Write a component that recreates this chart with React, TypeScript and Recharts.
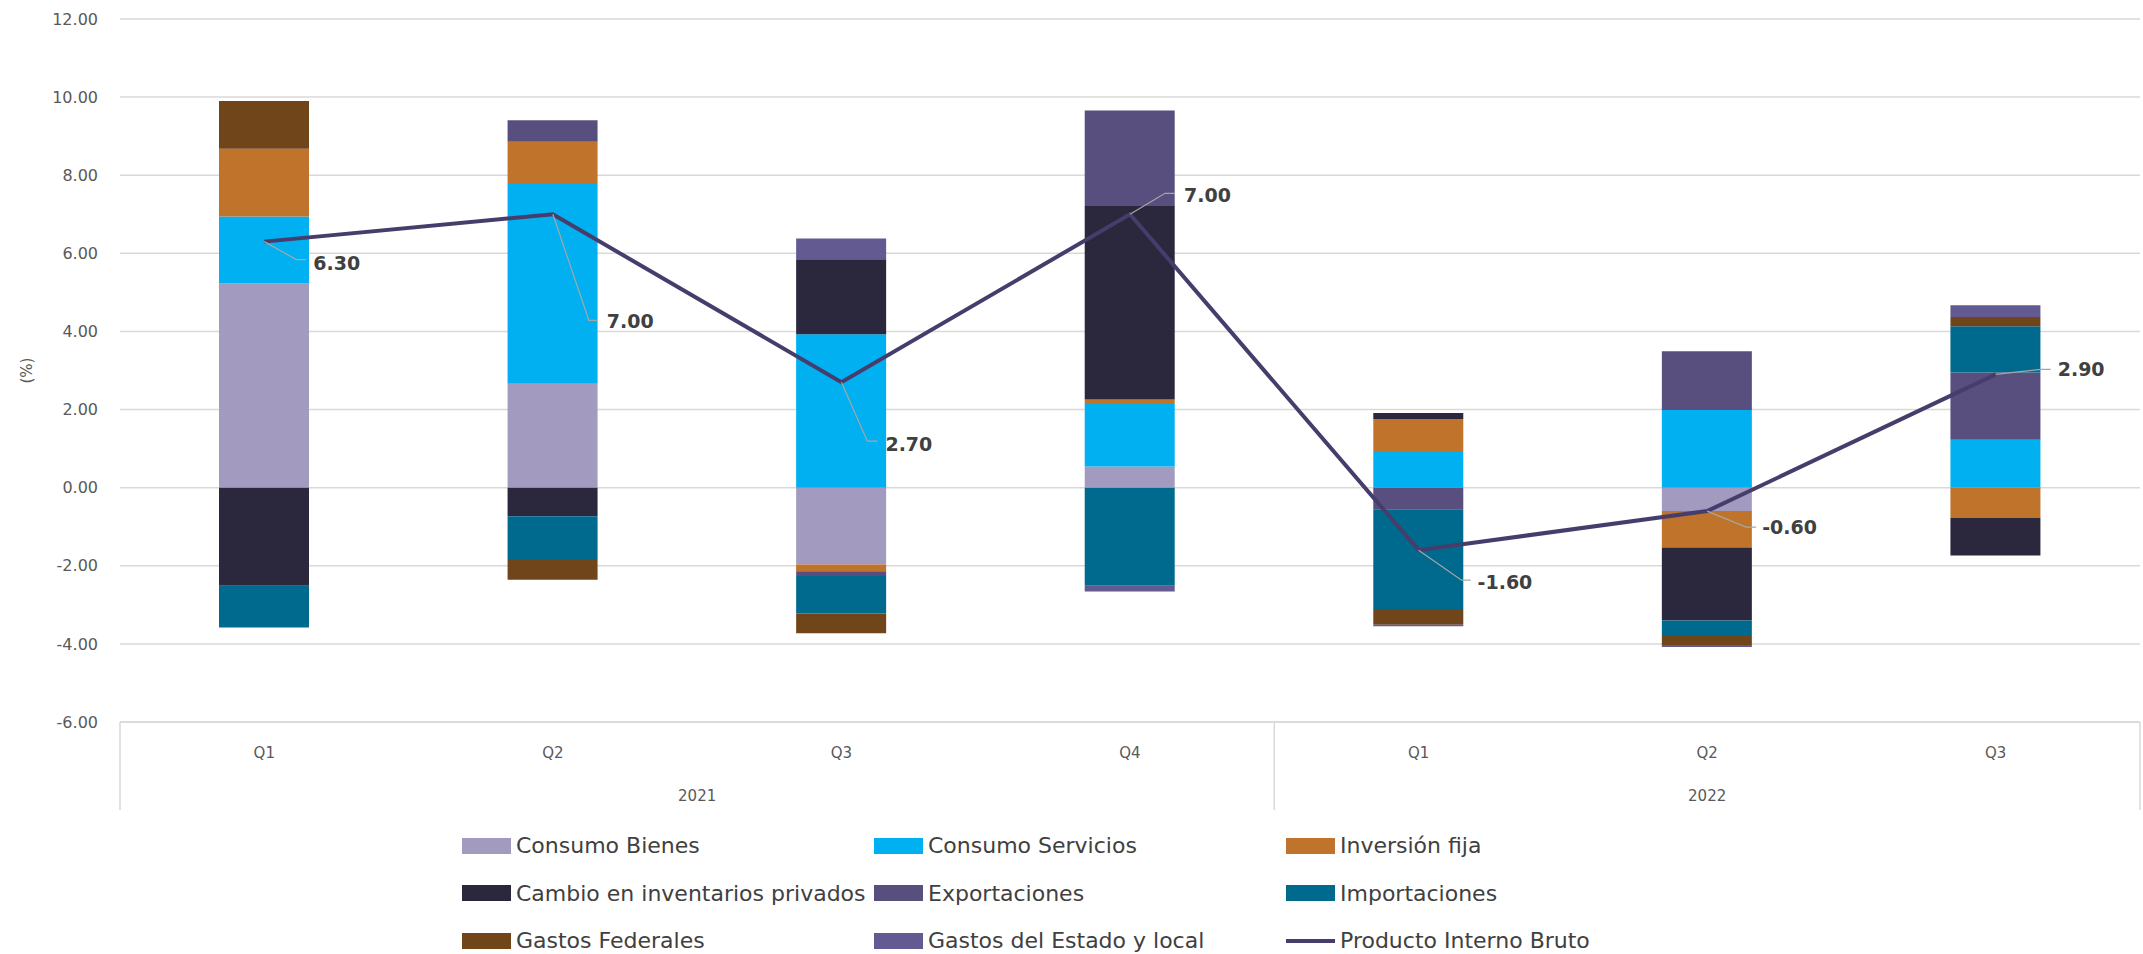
import React from 'react';
import { ComposedChart, Bar, Line, XAxis, YAxis, CartesianGrid, LabelList } from 'recharts';

const quarters = ['Q1', 'Q2', 'Q3', 'Q4', 'Q1', 'Q2', 'Q3'];
const years = ['2021', '2021', '2021', '2021', '2022', '2022', '2022'];

const consumoBienes = [5.23, 2.66, -1.97, 0.54, 0, -0.6, 0];
const consumoServicios = [1.71, 5.14, 3.93, 1.6, 0.94, 1.99, 1.23];
const inversionFija = [1.74, 1.06, -0.17, 0.12, 0.82, -0.93, -0.77];
const cambioInventarios = [-2.51, -0.73, 1.92, 4.95, 0.15, -1.87, -0.97];
const exportaciones = [0, 0.55, -0.12, 2.45, -0.55, 1.5, 1.72];
const importaciones = [-1.07, -1.12, -0.96, -2.51, -2.58, -0.37, 1.18];
const gastosFederales = [1.22, -0.51, -0.51, 0, -0.38, -0.26, 0.24];
const gastosEstadoLocal = [0, 0, 0.53, -0.15, -0.04, -0.05, 0.3];
const pib = [6.3, 7.0, 2.7, 7.0, -1.6, -0.6, 2.9];

const yTicks = [-6, -4, -2, 0, 2, 4, 6, 8, 10, 12];

const SERIES = [
  { key: 'bienes', name: 'Consumo Bienes', color: '#a29bbf', values: consumoBienes },
  { key: 'servicios', name: 'Consumo Servicios', color: '#00b0f0', values: consumoServicios },
  { key: 'inversion', name: 'Inversión fija', color: '#c0732a', values: inversionFija },
  { key: 'inventarios', name: 'Cambio en inventarios privados', color: '#2b273d', values: cambioInventarios },
  { key: 'exportaciones', name: 'Exportaciones', color: '#584f7f', values: exportaciones },
  { key: 'importaciones', name: 'Importaciones', color: '#006a8e', values: importaciones },
  { key: 'federales', name: 'Gastos Federales', color: '#71451a', values: gastosFederales },
  { key: 'estado', name: 'Gastos del Estado y local', color: '#625a91', values: gastosEstadoLocal },
];
const PIB_NAME = 'Producto Interno Bruto';
const PIB_COLOR = '#463d6c';

// label placement relative to the line point: [textDx, textDy, elbowDx, elbowDy, endDx]
const pibLabelOffsets = [
  [49, 21, 32, 18, 42],
  [54, 107, 36, 106, 45],
  [44, 62, 26, 59, 36],
  [54, -19, 35, -21, 45],
  [59, 32, 43, 30, 52],
  [55, 16, 39, 16, 49],
  [62, -5, 45, -5, 55],
];

const data = quarters.map((q, i) => {
  const row: any = { key: `${years[i]}-${q}`, q, year: years[i], pib: pib[i] };
  SERIES.forEach((s) => {
    row[s.key] = s.values[i];
  });
  return row;
});

const W = 2143;
const H = 954;
const FONT = "'DejaVu Sans', sans-serif";

const XTick = (props: any) => {
  const { x, y, payload } = props;
  const i = payload.index ?? props.index;
  const half = payload.offset || 144;
  const year = years[i];
  const first = i === 0 || years[i - 1] !== year;
  const last = i === quarters.length - 1;
  const groupSize = years.filter((v) => v === year).length;
  return (
    <g>
      <text x={x} y={y + 31} textAnchor="middle" dominantBaseline="central" fill="#595959" fontSize={15} fontFamily={FONT}>
        {quarters[i]}
      </text>
      {first && <line x1={x - half} x2={x - half} y1={y} y2={y + 88} stroke="#d9d9d9" strokeWidth={1.5} />}
      {first && (
        <text x={x + (groupSize - 1) * half} y={y + 74} textAnchor="middle" dominantBaseline="central" fill="#595959" fontSize={15} fontFamily={FONT}>
          {year}
        </text>
      )}
      {last && <line x1={x + half} x2={x + half} y1={y} y2={y + 88} stroke="#d9d9d9" strokeWidth={1.5} />}
    </g>
  );
};

const PibLabel = (props: any) => {
  const { x, y, value, index } = props;
  const o = pibLabelOffsets[index] || [40, 0, 20, 0, 30];
  const pts = `${x},${y} ${x + o[2]},${y + o[3]} ${x + o[4]},${y + o[3]}`;
  return (
    <g>
      <polyline points={pts} fill="none" stroke="#a6a6a6" strokeWidth={1.2} />
      <text x={x + o[0]} y={y + o[1]} dominantBaseline="central" fill="#404040" fontSize={19} fontWeight="bold" fontFamily={FONT}>
        {Number(value).toFixed(2)}
      </text>
    </g>
  );
};

const YLabel = (props: any) => {
  const vb = props.viewBox || { x: 0, y: 0, height: 700 };
  const cy = vb.y + vb.height / 2;
  return (
    <text x={27} y={cy} transform={`rotate(-90, 27, ${cy})`} textAnchor="middle" dominantBaseline="central" fill="#595959" fontSize={15} fontFamily={FONT}>
      (%)
    </text>
  );
};

const legendRows = [
  [SERIES[0], SERIES[1], SERIES[2]],
  [SERIES[3], SERIES[4], SERIES[5]],
  [SERIES[6], SERIES[7], null],
];

export default function App() {
  return (
    <div style={{ position: 'absolute', left: 0, top: 0, width: W, height: H, background: '#fff' }}>
      <ComposedChart
        width={W}
        height={H}
        data={data}
        stackOffset="sign"
        margin={{ top: 19, right: 3, left: 0, bottom: 132 }}
        barSize={90}
      >
        <CartesianGrid horizontal vertical={false} stroke="#d9d9d9" strokeWidth={1.5} />
        <XAxis
          dataKey="key"
          interval={0}
          tickLine={false}
          tickSize={0}
          tickMargin={0}
          height={100}
          axisLine={{ stroke: '#d9d9d9', strokeWidth: 1.5 }}
          tick={<XTick />}
        />
        <YAxis
          domain={[-6, 12]}
          ticks={yTicks}
          interval={0}
          tickFormatter={(v: number) => v.toFixed(2)}
          axisLine={false}
          tickLine={false}
          tickSize={0}
          tickMargin={22}
          width={120}
          tick={{ fill: '#595959', fontSize: 16, fontFamily: FONT }}
          label={{ content: <YLabel /> }}
        />
        {SERIES.map((s) => (
          <Bar key={s.key} dataKey={s.key} name={s.name} stackId="a" fill={s.color} isAnimationActive={false} />
        ))}
        <Line dataKey="pib" name={PIB_NAME} stroke={PIB_COLOR} strokeWidth={4} dot={false} isAnimationActive={false}>
          <LabelList dataKey="pib" content={<PibLabel />} />
        </Line>
      </ComposedChart>
      <div style={{ position: 'absolute', left: 462, top: 822, fontFamily: FONT, fontSize: 22, color: '#404040' }}>
        {legendRows.map((row, r) => (
          <div key={r} style={{ display: 'flex', height: 47.5, alignItems: 'center' }}>
            {row.map((s, c) => (
              <div key={c} style={{ width: 412, display: 'flex', alignItems: 'center' }}>
                {s ? (
                  <>
                    <span style={{ display: 'inline-block', width: 49, height: 16, background: s.color, marginRight: 5 }} />
                    <span style={{ whiteSpace: 'nowrap' }}>{s.name}</span>
                  </>
                ) : (
                  <>
                    <span style={{ display: 'inline-block', width: 49, height: 4, background: PIB_COLOR, marginRight: 5 }} />
                    <span style={{ whiteSpace: 'nowrap' }}>{PIB_NAME}</span>
                  </>
                )}
              </div>
            ))}
          </div>
        ))}
      </div>
    </div>
  );
}
